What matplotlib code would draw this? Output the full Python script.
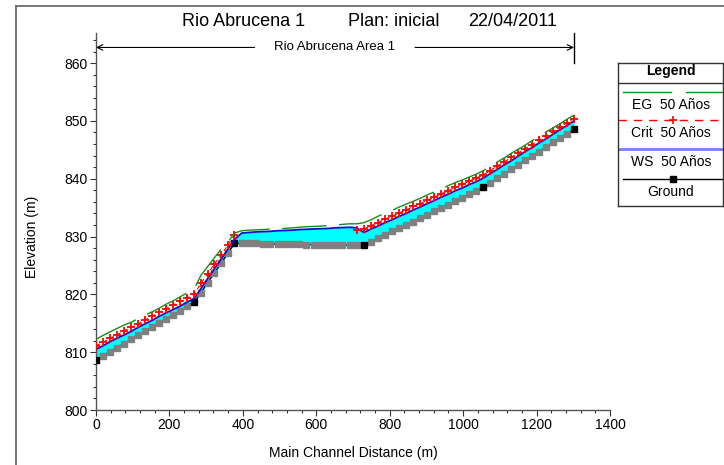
import numpy as np
import matplotlib
matplotlib.use("Agg")
import matplotlib.pyplot as plt
from matplotlib.lines import Line2D
from matplotlib.ticker import MultipleLocator

plt.rcParams['font.family'] = ['Liberation Sans', 'DejaVu Sans']

nan = np.nan

# main channel distance of each cross section (m)
station = [0, 19, 38, 57, 77, 96, 115, 134, 153, 172, 191, 211, 230, 249, 268,
           286, 304, 322, 341, 359, 377,
           397, 416, 436, 455, 475, 495, 514, 534, 553, 573, 593, 612, 632, 651, 671, 691, 710, 730,
           749, 768, 787, 806, 826, 845, 864, 883, 902, 921, 940, 959, 978, 998, 1017, 1036, 1055,
           1074, 1093, 1112, 1131, 1150, 1169, 1188, 1207, 1226, 1245, 1264, 1283, 1302]

ground = [808.7, 809.4, 810.1, 810.8, 811.5, 812.2, 812.9, 813.6, 814.4, 815.1, 815.8, 816.5, 817.2, 817.9, 818.6,
          820.3, 822.0, 823.7, 825.4, 827.1, 828.8,
          828.8, 828.8, 828.8, 828.7, 828.7, 828.7, 828.7, 828.7, 828.7, 828.6, 828.6, 828.6, 828.6, 828.5, 828.5, 828.5, 828.5, 828.5,
          829.1, 829.7, 830.3, 830.9, 831.4, 832.0, 832.6, 833.2, 833.8, 834.4, 834.9, 835.5, 836.1, 836.7, 837.3, 837.9, 838.5,
          839.3, 840.1, 840.8, 841.6, 842.4, 843.2, 844.0, 844.7, 845.5, 846.3, 847.1, 847.8, 848.6]

ws = [810.5, 811.1, 811.8, 812.4, 813.0, 813.6, 814.3, 814.9, 815.5, 816.2, 816.8, 817.4, 818.0, 818.7, 819.3,
      821.0, 822.7, 824.4, 826.1, 827.8, 829.5,
      830.6, 830.7, 830.8, 830.85, 830.9, 831.0, 831.05, 831.1, 831.2, 831.25, 831.3, 831.35, 831.4, 831.5, 831.55, 831.6, 831.5, 830.7,
      831.3, 831.8, 832.4, 832.9, 833.5, 834.0, 834.6, 835.1, 835.7, 836.2, 836.8, 837.3, 837.9, 838.4, 839.0, 839.5, 840.1,
      840.9, 841.6, 842.4, 843.1, 843.9, 844.7, 845.4, 846.2, 846.9, 847.7, 848.5, 849.2, 850.0]

crit = [811.1, 811.7, 812.4, 813.0, 813.7, 814.3, 814.9, 815.6, 816.2, 816.9, 817.5, 818.2, 818.8, 819.4, 820.1,
        821.9, 823.6, 825.2, 826.8, 828.5, 830.2,
        nan, nan, nan, nan, nan, nan, nan, nan, nan, nan, nan, nan, nan, nan, nan, nan, 831.1, 831.3,
        831.9, 832.4, 833.0, 833.5, 834.1, 834.6, 835.2, 835.7, 836.3, 836.8, 837.4, 837.9, 838.5, 839.0, 839.6, 840.1, 840.7,
        841.4, 842.2, 842.9, 843.7, 844.4, 845.2, 845.9, 846.7, 847.4, 848.2, 848.9, 849.7, 850.4]

eg = [812.2, 812.9, 813.5, 814.1, 814.7, 815.2, 815.8, 816.4, 817.0, 817.6, 818.3, 818.9, 819.6, 820.3, 821.0,
      823.3, 824.8, 826.3, 827.8, 829.0, 830.6,
      831.0, 831.1, 831.15, 831.2, 831.3, 831.35, 831.4, 831.5, 831.6, 831.7, 831.75, 831.8, 831.9, 832.0, 832.1, 832.2, 832.2, 832.4,
      832.9, 833.5, 834.0, 834.5, 835.1, 835.6, 836.1, 836.6, 837.2, 837.7, 838.2, 838.8, 839.3, 839.8, 840.3, 840.8, 841.4,
      842.1, 842.9, 843.6, 844.4, 845.1, 845.8, 846.6, 847.3, 848.1, 848.8, 849.5, 850.3, 851.0]

# surveyed (non interpolated) sections
key_station = [0, 268, 377, 730, 1055, 1302]

W, H = 724, 465
fig = plt.figure(figsize=(W / 100, H / 100), dpi=100)

def fx(px):
    return px / W

def fy(py):
    return 1 - py / H

ax = fig.add_axes([fx(96), fy(410), fx(610) - fx(96), fy(33) - fy(410)])

x = np.array(station)
g = np.array(ground)
key = np.isin(x, key_station)

ax.fill_between(x, g, ws, color='#00ffff', lw=0, zorder=1)
ax.plot(x, g, color='black', lw=1, zorder=2)
ax.plot(x[~key], g[~key], ls='none', marker='s', ms=4.5, color='#808080', zorder=3)
ax.plot(x[key], g[key], ls='none', marker='s', ms=4.5, color='black', zorder=3)
ax.plot(x, ws, color='#1010d0', lw=1.3, zorder=4)
ax.plot(x, crit, color='red', lw=0.8, ls=(0, (4, 3)), marker='+', ms=6, mew=1.3, zorder=5)
ax.plot(x, eg, color='#1a8a1a', lw=1, dashes=(32, 9), zorder=6)

ax.set_xlim(0, 1400)
ax.set_ylim(800, 865.2)
ax.xaxis.set_major_locator(MultipleLocator(200))
ax.xaxis.set_minor_locator(MultipleLocator(40))
ax.yaxis.set_major_locator(MultipleLocator(10))
ax.yaxis.set_minor_locator(MultipleLocator(2))
ax.set_yticks([800, 810, 820, 830, 840, 850, 860])
ax.tick_params(which='major', length=4, width=0.8, color='#333333', labelsize=10, pad=2)
ax.tick_params(which='minor', length=2.5, width=0.8, color='#333333')
for s in ['top', 'right']:
    ax.spines[s].set_visible(False)
for s in ['left', 'bottom']:
    ax.spines[s].set_color('#555555')
    ax.spines[s].set_linewidth(1)
ax.patch.set_alpha(0)

# reach extent annotation
ya = 862.7
ax.annotate('', xy=(0, ya), xytext=(432, ya),
            arrowprops=dict(arrowstyle='->', color='black', lw=0.8, shrinkA=0, shrinkB=0),
            annotation_clip=False)
ax.annotate('', xy=(1302, ya), xytext=(869, ya),
            arrowprops=dict(arrowstyle='->', color='black', lw=0.8, shrinkA=0, shrinkB=0),
            annotation_clip=False)
ax.plot([1302, 1302], [860.0, 865.2], color='black', lw=1, clip_on=False)
ax.text(650, ya, 'Rio Abrucena Area 1', ha='center', va='center', fontsize=9.5)

# title
fig.text(fx(182), fy(22), 'Rio Abrucena 1', fontsize=13, va='center', ha='left')
fig.text(fx(348), fy(22), 'Plan: inicial', fontsize=13, va='center', ha='left')
fig.text(fx(468), fy(22), '22/04/2011', fontsize=13, va='center', ha='left')

fig.text(fx(32), fy(237), 'Elevation (m)', rotation=90, fontsize=10, ha='center', va='center')
fig.text(fx(353), fy(453), 'Main Channel Distance (m)', fontsize=10, ha='center', va='center')

# outer frame
fig.add_artist(Line2D([fx(16), fx(16)], [fy(6), 0], color='#606060', lw=1.2))
fig.add_artist(Line2D([fx(16), 1], [fy(6), fy(6)], color='#606060', lw=1.2))

# legend box
lg = fig.add_axes([fx(618), fy(206), fx(723) - fx(618), fy(63) - fy(206)])
lg.set_xlim(618, 723)
lg.set_ylim(206, 63)
lg.set_xticks([])
lg.set_yticks([])
for s in lg.spines.values():
    s.set_color('#333333')
    s.set_linewidth(1)
xc = 671
lg.text(xc, 71.5, 'Legend', ha='center', va='center', fontsize=10, fontweight='bold')
lg.plot([618, 723], [83.5, 83.5], color='#333333', lw=1)
lg.plot([623, 671], [92.5, 92.5], color='#1a8a1a', lw=1)
lg.plot([686, 723], [92.5, 92.5], color='#1a8a1a', lw=1)
lg.text(xc, 105, 'EG  50 Años', ha='center', va='center', fontsize=10)
lg.plot([618, 723], [120, 120], color='red', lw=1, dashes=(6, 5))
lg.plot([673], [120], marker='+', color='red', ms=6, mew=1.2)
lg.text(xc, 133, 'Crit  50 Años', ha='center', va='center', fontsize=10)
lg.plot([618, 723], [149.5, 149.5], color='#7b7bff', lw=2)
lg.text(xc, 162, 'WS  50 Años', ha='center', va='center', fontsize=10)
lg.plot([623, 723], [178.7, 178.7], color='black', lw=1)
lg.plot([673], [178.7], marker='s', color='black', ms=4)
lg.text(xc, 192, 'Ground', ha='center', va='center', fontsize=10)

fig.savefig('out.png', dpi=100)
